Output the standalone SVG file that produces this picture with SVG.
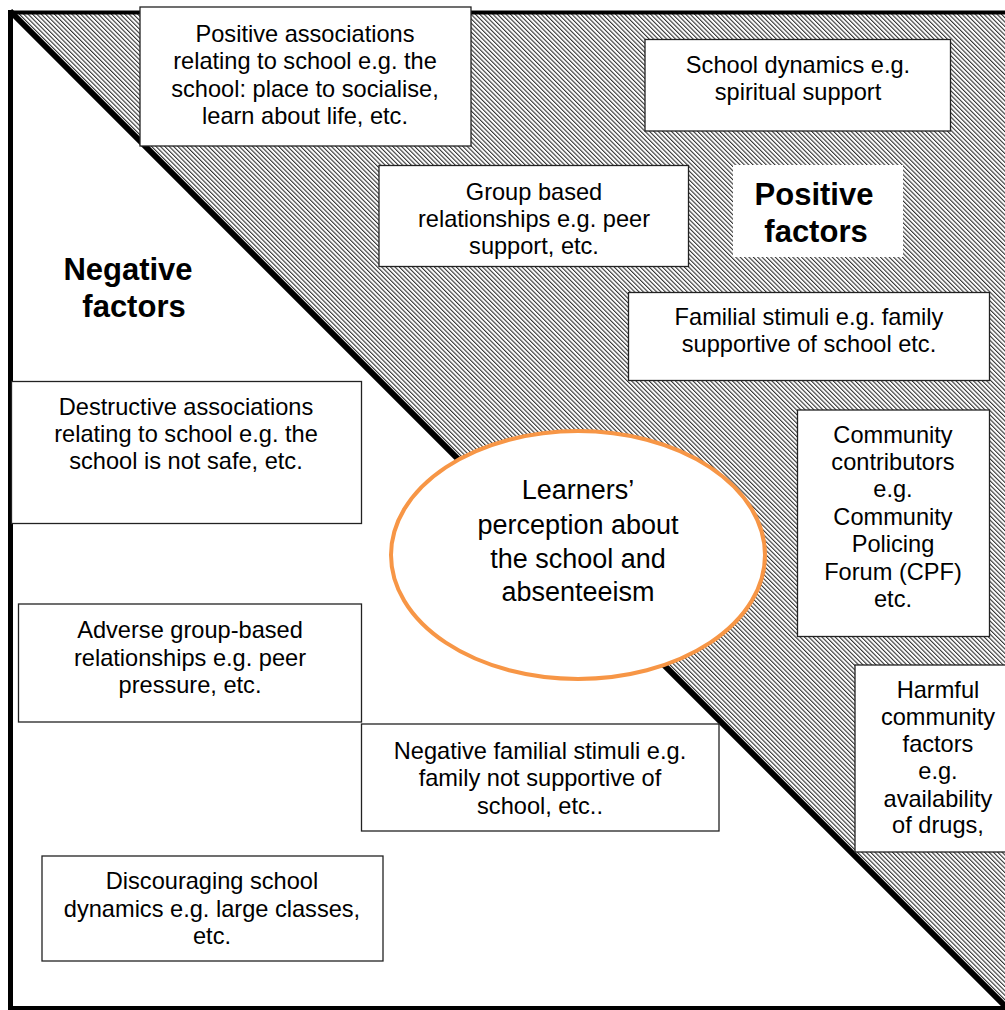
<svg xmlns="http://www.w3.org/2000/svg" width="1005" height="1010" viewBox="0 0 1005 1010">
<style>
.box{fill:#fff;stroke:#222;stroke-width:1.3}
.t{font-family:"Liberation Sans",Arial,sans-serif;font-size:23.6px;fill:#000;text-anchor:middle}
.b{font-family:"Liberation Sans",Arial,sans-serif;font-size:31px;font-weight:bold;fill:#000;text-anchor:middle}
.e{font-family:"Liberation Sans",Arial,sans-serif;font-size:27px;fill:#000;text-anchor:middle}
.frame{stroke:#000;fill:none}
</style>
<defs>
<pattern id="hatch" width="3.1" height="3.1" patternUnits="userSpaceOnUse" patternTransform="rotate(-45)">
<rect width="1.1" height="3.1" fill="#333"/>
</pattern>
</defs>
<rect width="1005" height="1010" fill="#fff"/>
<g id="background">
<polygon points="12,12 1005,12 1005,1005" fill="url(#hatch)"/>
<line class="frame" x1="10" y1="12.5" x2="1005" y2="12.5" stroke-width="4"/>
<line class="frame" x1="10.5" y1="10" x2="10.5" y2="1010" stroke-width="5"/>
<line class="frame" x1="8" y1="1008" x2="1005" y2="1008" stroke-width="4"/>
<line class="frame" x1="10" y1="11" x2="1005" y2="1006" stroke-width="6"/>
</g>
<g id="connectors"></g>
<g id="positive-label">
<rect x="733" y="165" width="170" height="92" fill="#fff"/>
<text class="b" x="814" y="205">Positive</text>
<text class="b" x="816" y="242">factors</text>
</g>
<g id="negative-label">
<text class="b" x="128" y="280">Negative</text>
<text class="b" x="134" y="317">factors</text>
</g>
<g id="pos-associations">
<rect class="box" x="140" y="7" width="331" height="139"/>
<text class="t" x="305" y="41.5">Positive associations</text>
<text class="t" x="305" y="69">relating to school e.g. the</text>
<text class="t" x="305" y="96.5">school: place to socialise,</text>
<text class="t" x="305" y="124">learn about life, etc.</text>
</g>
<g id="school-dynamics">
<rect class="box" x="645" y="39.5" width="305.5" height="91.5"/>
<text class="t" x="798" y="73">School dynamics e.g.</text>
<text class="t" x="798" y="100">spiritual support</text>
</g>
<g id="group-relationships">
<rect class="box" x="379" y="165.5" width="309.5" height="101"/>
<text class="t" x="534" y="200">Group based</text>
<text class="t" x="534" y="227">relationships e.g. peer</text>
<text class="t" x="534" y="254">support, etc.</text>
</g>
<g id="familial-stimuli">
<rect class="box" x="628.5" y="292.5" width="361" height="88"/>
<text class="t" x="809" y="325">Familial stimuli e.g. family</text>
<text class="t" x="809" y="352">supportive of school etc.</text>
</g>
<g id="community-contributors">
<rect class="box" x="797.5" y="410" width="192" height="226.5"/>
<text class="t" x="893" y="442.5">Community</text>
<text class="t" x="893" y="470">contributors</text>
<text class="t" x="893" y="497.3">e.g.</text>
<text class="t" x="893" y="525">Community</text>
<text class="t" x="893" y="552.3">Policing</text>
<text class="t" x="893" y="580">Forum (CPF)</text>
<text class="t" x="893" y="607.3">etc.</text>
</g>
<g id="harmful-community">
<rect class="box" x="855" y="665" width="170" height="187"/>
<text class="t" x="938" y="698.3">Harmful</text>
<text class="t" x="938" y="725">community</text>
<text class="t" x="938" y="752.3">factors</text>
<text class="t" x="938" y="778.5">e.g.</text>
<text class="t" x="938" y="806.5">availability</text>
<text class="t" x="938" y="833.3">of drugs,</text>
</g>
<g id="destructive-associations">
<rect class="box" x="11.5" y="381.5" width="350" height="142"/>
<text class="t" x="186" y="415">Destructive associations</text>
<text class="t" x="186" y="442">relating to school e.g. the</text>
<text class="t" x="186" y="469">school is not safe, etc.</text>
</g>
<g id="learners-perception">
<ellipse cx="578" cy="555" rx="187" ry="124" fill="#fff" stroke="#F79646" stroke-width="4"/>
<text class="e" x="578" y="499">Learners’</text>
<text class="e" x="578" y="534">perception about</text>
<text class="e" x="578" y="568">the school and</text>
<text class="e" x="578" y="601">absenteeism</text>
</g>
<g id="adverse-group">
<rect class="box" x="18.5" y="604" width="343" height="118"/>
<text class="t" x="190" y="638">Adverse group-based</text>
<text class="t" x="190" y="665.5">relationships e.g. peer</text>
<text class="t" x="190" y="693">pressure, etc.</text>
</g>
<g id="negative-familial">
<rect class="box" x="361.5" y="724" width="357.5" height="107"/>
<text class="t" x="540" y="759">Negative familial stimuli e.g.</text>
<text class="t" x="540" y="786">family not supportive of</text>
<text class="t" x="540" y="813.5">school, etc..</text>
</g>
<g id="discouraging-dynamics">
<rect class="box" x="42" y="856" width="341" height="105"/>
<text class="t" x="212" y="889">Discouraging school</text>
<text class="t" x="212" y="917">dynamics e.g. large classes,</text>
<text class="t" x="212" y="944">etc.</text>
</g>
</svg>
